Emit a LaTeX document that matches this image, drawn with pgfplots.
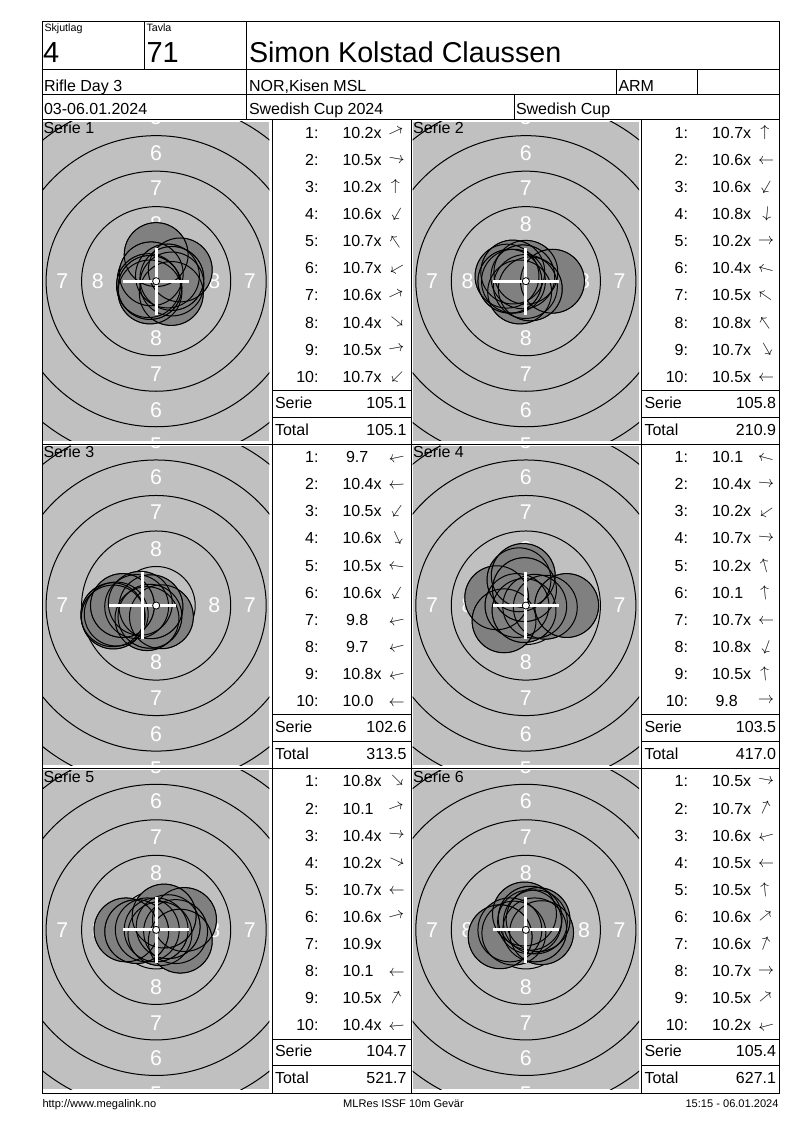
\documentclass[border=0pt]{standalone}
\usepackage{pgfplots}
\pgfplotsset{compat=1.18}
\usepackage{pgfplotstable}
\usepackage{fontspec}
\setmainfont{Liberation Sans}
\definecolor{bggray}{RGB}{192,192,192}
\definecolor{shotgray}{RGB}{128,128,128}
\newcommand\setfs[1]{\fontsize{#1}{#1}\selectfont}
\newcommand\arrowfont{\setfs{13.2pt}}

% shot positions in mm from the centre of the target
\pgfplotstableread{
x y
1.699 0.793
1.108 -0.196
0 1.875
-0.438 -0.758
-0.349 0.518
-0.541 -0.313
0.793 0.370
1.069 -0.865
1.108 0.196
-0.442 -0.442
}\serieA
\pgfplotstableread{
x y
0 0.625
-0.875 0
-0.438 -0.758
-0.033 -0.374
1.875 0
-1.328 0.356
-0.921 0.646
-0.215 0.307
0.313 -0.541
-1.125 0
}\serieB
\pgfplotstableread{
x y
-3.057 -0.650
-1.373 -0.072
-0.646 -0.921
0.370 -0.793
-1.114 0.157
-0.438 -0.758
-2.812 -0.598
-3.019 -0.809
-0.365 -0.084
-2.375 0
}\serieC
\pgfplotstableread{
x y
-2.053 0.550
1.370 -0.120
-1.536 -1.076
0.623 -0.054
-0.486 1.811
-0.185 2.117
-0.625 0
-0.128 -0.353
-0.098 1.121
2.875 0
}\serieD
\pgfplotstableread{
x y
0.265 -0.265
1.997 0.727
1.370 -0.120
1.699 -0.793
-0.625 0
0.845 0.226
0 0
-2.125 0
0.563 0.974
-1.370 -0.120
}\serieE
\pgfplotstableread{
x y
1.108 -0.196
0.264 0.566
-0.845 -0.227
-1.125 0
-0.098 1.121
0.670 0.562
0.299 0.822
0.625 0
0.862 0.723
-1.811 -0.485
}\serieF

\tikzset{
  lbl/.style={text=white, font=\setfs{16pt}, inner sep=0pt},
  tx/.style={inner sep=0pt, font=\setfs{12pt}},
}

\newcommand\target[3]{%
\begin{axis}[at={(#1)}, anchor=south west, scale only axis,
  width=169.725pt, height=239.25pt,
  xmin=-7.968, xmax=7.968, ymin=-11.232, ymax=11.232,
  hide axis, clip marker paths=true]
  \draw[line width=0.75pt] (axis cs:0,0) circle[radius=2.75];
  \draw[line width=0.75pt] (axis cs:0,0) circle[radius=5.25];
  \draw[line width=0.75pt] (axis cs:0,0) circle[radius=7.75];
  \draw[line width=0.75pt] (axis cs:0,0) circle[radius=10.25];
  \draw[line width=0.75pt] (axis cs:0,0) circle[radius=12.75];
  \draw[line width=0.75pt] (axis cs:0,0) circle[radius=15.25];
  \node[lbl] at (axis cs:-4.1,0) {8};
  \node[lbl] at (axis cs:4.1,0) {8};
  \node[lbl] at (axis cs:-6.6,0) {7};
  \node[lbl] at (axis cs:6.6,0) {7};
  \node[lbl] at (axis cs:0,4.0) {8};
  \node[lbl] at (axis cs:0,-4.0) {8};
  \node[lbl] at (axis cs:0,6.55) {7};
  \node[lbl] at (axis cs:0,-6.55) {7};
  \node[lbl] at (axis cs:0,9.05) {6};
  \node[lbl] at (axis cs:0,-9.05) {6};
  \node[lbl] at (axis cs:0,11.55) {5};
  \node[lbl] at (axis cs:0,-11.55) {5};
  \addplot[only marks, mark=*, mark size=23.96pt, mark options={draw=none, fill=shotgray}] table {#2};
  \addplot[only marks, mark=o, mark size=23.96pt, mark options={draw=black, line width=0.75pt}] table {#2};
  \addplot[only marks, mark=+, mark size=25pt, mark options={draw=white, line width=2.25pt}] coordinates {#3};
  \draw[fill=white, line width=0.6pt] (axis cs:0,0) circle[radius=0.25];
\end{axis}}

% shot rows of a score table: #1 x offset, #2 top of block, #3 list n/score/x/angle
\newcommand\shots[3]{%
  \foreach \n/\sc/\sx/\ang in {#3} {
    \node[tx, anchor=base east] at ({#1+319},{#2+18.3+(\n-1)*27.1}) {\n:};
    \node[tx, anchor=base west] at ({#1+\sx},{#2+18.3+(\n-1)*27.1}) {\sc};
    \ifnum\ang=999\else
      \node[inner sep=0pt, rotate=\ang, font=\arrowfont] at ({#1+396.5},{#2+12.7+(\n-1)*27.1}) {$\rightarrow$};
    \fi
  }}
\newcommand\sums[4]{%
  \node[tx, anchor=base west] at ({#1+274.5},{#2+288.3}) {Serie};
  \node[tx, anchor=base east] at ({#1+407},{#2+288.3}) {#3};
  \node[tx, anchor=base west] at ({#1+274.5},{#2+315}) {Total};
  \node[tx, anchor=base east] at ({#1+407},{#2+315}) {#4};
}

\begin{document}
\begin{tikzpicture}
\begin{scope}[x=0.75pt, y=-0.75pt]
  \fill[white] (0,0) rectangle (800,1130);
  \path (0,0) rectangle (800,1130);
  \foreach \T in {120,444.33,768.67} {
    \fill[bggray] (43,\T+1.7) rectangle (269.3,\T+320.7);
    \fill[bggray] (412.7,\T+1.7) rectangle (639,\T+320.7);
  }
  \coordinate (p1) at (43,440.7);
  \coordinate (p2) at (412.7,440.7);
  \coordinate (p3) at (43,765.03);
  \coordinate (p4) at (412.7,765.03);
  \coordinate (p5) at (43,1089.37);
  \coordinate (p6) at (412.7,1089.37);
\end{scope}

\target{p1}{\serieA}{(0,0)}
\target{p2}{\serieB}{(0,0)}
\target{p3}{\serieC}{(-0.94,0)}
\target{p4}{\serieD}{(0,0)}
\target{p5}{\serieE}{(0,0)}
\target{p6}{\serieF}{(0,0)}

\begin{scope}[x=0.75pt, y=-0.75pt, line width=0.75pt]
  % frame and grid
  \draw (42,21.5) rectangle (779.5,1093);
  \draw (42,70) -- (779.5,70);
  \draw (42,95) -- (779.5,95);
  \draw (42,120) -- (779.5,120);
  \draw (144,21.5) -- (144,70);
  \draw (246.5,21.5) -- (246.5,120);
  \draw (616,70) -- (616,95);
  \draw (697.5,70) -- (697.5,95);
  \draw (514,95) -- (514,120);
  \draw (42,444.33) -- (779.5,444.33);
  \draw (42,768.67) -- (779.5,768.67);
  \draw (272.5,120) -- (272.5,1093);
  \draw (411.7,120) -- (411.7,1093);
  \draw (641.5,120) -- (641.5,1093);
  \foreach \T in {120,444.33,768.67} {
    \draw (272.5,\T+270.5) -- (411.7,\T+270.5);
    \draw (272.5,\T+297) -- (411.7,\T+297);
    \draw (641.5,\T+270.5) -- (779.5,\T+270.5);
    \draw (641.5,\T+297) -- (779.5,\T+297);
  }
  % header
  \node[inner sep=0pt, anchor=base west, font=\setfs{8pt}] at (44,31.5) {Skjutlag};
  \node[inner sep=0pt, anchor=base west, font=\setfs{8pt}] at (146,31.5) {Tavla};
  \node[inner sep=0pt, anchor=base west, font=\setfs{21.75pt}] at (42.5,62.5) {4};
  \node[inner sep=0pt, anchor=base west, font=\setfs{21.75pt}] at (146,62.5) {71};
  \node[inner sep=0pt, anchor=base west, font=\setfs{21.5pt}] at (248.5,62.5) {Simon Kolstad Claussen};
  \node[tx, anchor=base west] at (43.5,91.5) {Rifle Day 3};
  \node[tx, anchor=base west] at (248.5,91.5) {NOR,Kisen MSL};
  \node[tx, anchor=base west] at (618,91.5) {ARM};
  \node[tx, anchor=base west] at (43.5,115) {03-06.01.2024};
  \node[tx, anchor=base west] at (248.5,115) {Swedish Cup 2024};
  \node[tx, anchor=base west] at (515.5,115) {Swedish Cup};
  % panel titles
  \node[tx, anchor=base west] at (43,133.3) {Serie 1};
  \node[tx, anchor=base west] at (412.7,133.3) {Serie 2};
  \node[tx, anchor=base west] at (43,457.6) {Serie 3};
  \node[tx, anchor=base west] at (412.7,457.6) {Serie 4};
  \node[tx, anchor=base west] at (43,782) {Serie 5};
  \node[tx, anchor=base west] at (412.7,782) {Serie 6};
  % score tables
  \shots{0}{120}{1/10.2x/342/25, 2/10.5x/342/-10, 3/10.2x/342/90, 4/10.6x/342/240, 5/10.7x/342/124, 6/10.7x/342/210, 7/10.6x/342/25, 8/10.4x/342/-39, 9/10.5x/342/10, 10/10.7x/342/225}
  \sums{0}{120}{105.1}{105.1}
  \shots{369.5}{120}{1/10.7x/342/90, 2/10.6x/342/180, 3/10.6x/342/240, 4/10.8x/342/265, 5/10.2x/342/0, 6/10.4x/342/165, 7/10.5x/342/145, 8/10.8x/342/125, 9/10.7x/342/-60, 10/10.5x/342/180}
  \sums{369.5}{120}{105.8}{210.9}
  \shots{0}{444.33}{1/9.7/345.5/192, 2/10.4x/342/183, 3/10.5x/342/235, 4/10.6x/342/295, 5/10.5x/342/172, 6/10.6x/342/240, 7/9.8/345.5/192, 8/9.7/345.5/195, 9/10.8x/342/193, 10/10.0/342/180}
  \sums{0}{444.33}{102.6}{313.5}
  \shots{369.5}{444.33}{1/10.1/342/165, 2/10.4x/342/-5, 3/10.2x/342/215, 4/10.7x/342/-5, 5/10.2x/342/105, 6/10.1/342/95, 7/10.7x/342/180, 8/10.8x/342/250, 9/10.5x/342/95, 10/9.8/345.5/0}
  \sums{369.5}{444.33}{103.5}{417.0}
  \shots{0}{768.67}{1/10.8x/342/-45, 2/10.1/342/20, 3/10.4x/342/-5, 4/10.2x/342/-25, 5/10.7x/342/180, 6/10.6x/342/15, 7/10.9x/342/999, 8/10.1/342/180, 9/10.5x/342/60, 10/10.4x/342/185}
  \sums{0}{768.67}{104.7}{521.7}
  \shots{369.5}{768.67}{1/10.5x/342/-10, 2/10.7x/342/65, 3/10.6x/342/195, 4/10.5x/342/180, 5/10.5x/342/95, 6/10.6x/342/40, 7/10.6x/342/70, 8/10.7x/342/0, 9/10.5x/342/40, 10/10.2x/342/195}
  \sums{369.5}{768.67}{105.4}{627.1}
  % footer
  \node[inner sep=0pt, anchor=base west, font=\setfs{8.3pt}] at (42,1107) {http://www.megalink.no};
  \node[inner sep=0pt, anchor=base, font=\setfs{8.3pt}] at (403.5,1107) {MLRes ISSF 10m Gevär};
  \node[inner sep=0pt, anchor=base east, font=\setfs{8.3pt}] at (779,1107) {15:15 - 06.01.2024};
\end{scope}
\end{tikzpicture}
\end{document}
